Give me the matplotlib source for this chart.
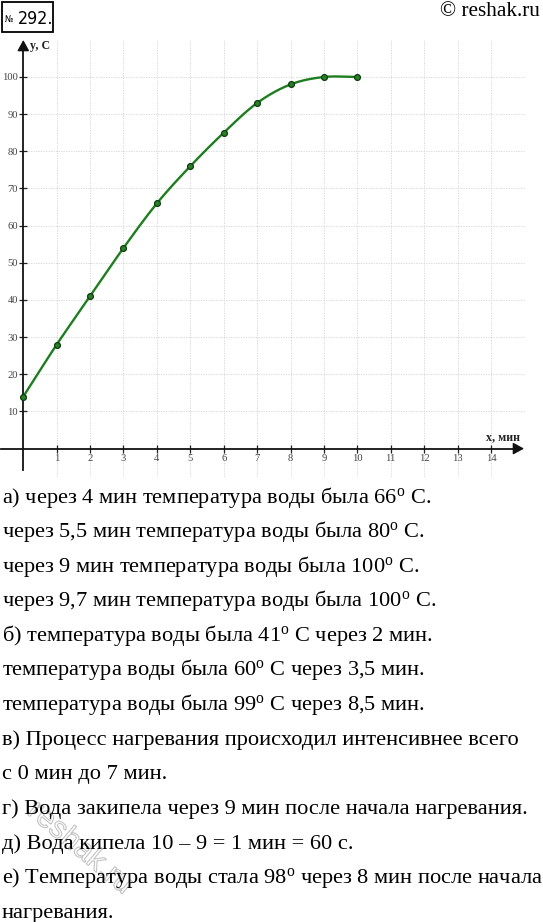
import numpy as np
import matplotlib
matplotlib.use("Agg")
import matplotlib.pyplot as plt
from matplotlib.patches import Rectangle
from matplotlib import font_manager
from matplotlib.font_manager import FontProperties
import matplotlib.patheffects as pe

plt.rcParams['mathtext.fontset'] = 'custom'
plt.rcParams['mathtext.rm'] = 'Liberation Serif'
plt.rcParams['mathtext.it'] = 'Liberation Serif:italic'

# ---------------- data ----------------
minutes = [0, 1, 2, 3, 4, 5, 6, 7, 8, 9, 10]
temperature = [14, 28, 41, 54, 66, 76, 85, 93, 98, 100, 100]
x_ticks = [1, 2, 3, 4, 5, 6, 7, 8, 9, 10, 11, 12, 13, 14]
y_ticks = [10, 20, 30, 40, 50, 60, 70, 80, 90, 100]
x_label = "x, мин"
y_label = "y, C"
header_no = "№"
header_num = "292."
site = "© reshak.ru"
SUP = r"$^{\mathrm{o}}$"
answer_lines = [
    "а) через 4 мин температура воды была 66" + SUP + " С.",
    "через 5,5 мин температура воды была 80" + SUP + " С.",
    "через 9 мин температура воды была 100" + SUP + " С.",
    "через 9,7 мин температура воды была 100" + SUP + " С.",
    "б) температура воды была 41" + SUP + " С через 2 мин.",
    "температура воды была 60" + SUP + " С через 3,5 мин.",
    "температура воды была 99" + SUP + " С через 8,5 мин.",
    "в) Процесс нагревания происходил интенсивнее всего",
    "с 0 мин до 7 мин.",
    "г) Вода закипела через 9 мин после начала нагревания.",
    "д) Вода кипела 10 – 9 = 1 мин = 60 с.",
    "е) Температура воды стала 98" + SUP + " через 8 мин после начала",
    "нагревания.",
]

# ---------------- condensed font for the header ----------------
def find_condensed():
    cands = []
    for f in font_manager.fontManager.ttflist:
        fn = f.fname.lower()
        if ('narrow' in fn or 'condensed' in fn) and 'bold' not in fn \
                and 'italic' not in fn and 'oblique' not in fn:
            key = fn.replace('-', '').replace(' ', '').replace('_', '')
            score = 0
            if 'liberationsansnarrow' in key:
                score = 3
            elif 'dejavusanscondensed' in key:
                score = 2
            elif 'sans' in key:
                score = 1
            if 'serif' in key and 'sans' not in key:
                score = -1
            cands.append((score, f.fname))
    cands.sort(reverse=True)
    if cands and cands[0][0] >= 0:
        return FontProperties(fname=cands[0][1])
    return FontProperties(family='Liberation Sans')

cond_fp = find_condensed()

# ---------------- layout (pixels) ----------------
W, H = 543, 922
ox, oy = 23.3, 448.6       # pixel position of origin
sx, sy = 33.4, 3.716       # pixels per unit

fig = plt.figure(figsize=(W / 100, H / 100), dpi=100)
ax = fig.add_axes([0, 0, 1, 1])
ax.set_xlim(-ox / sx, (W - ox) / sx)
ax.set_ylim((oy - H) / sy, oy / sy)
ax.set_facecolor('white')

def px_x(p):
    return (p - ox) / sx

def px_y(p):
    return (oy - p) / sy

x_max = px_x(524)
y_top = px_y(40)
y_bot = px_y(470)
grid_right = 15

# grid
grid_kw = dict(color='#d4d4d4', lw=0.6, linestyle=(0, (1.5, 1.5)), zorder=1)
ax.vlines(x_ticks, px_y(476), y_top, **grid_kw)
ax.hlines(y_ticks, 0, grid_right, **grid_kw)

# axes with spines at zero
for s in ['top', 'right']:
    ax.spines[s].set_visible(False)
ax.spines['left'].set_position(('data', 0))
ax.spines['bottom'].set_position(('data', 0))
ax.spines['left'].set_bounds(y_bot, y_top - 1.5)
ax.spines['bottom'].set_bounds(px_x(1), x_max - 0.15)
for s in ['left', 'bottom']:
    ax.spines[s].set_linewidth(1.3)
    ax.spines[s].set_color('#111111')
    ax.spines[s].set_zorder(3)

ax.set_xticks(x_ticks)
ax.set_yticks(y_ticks)
ax.set_xticklabels([str(t) for t in x_ticks])
ax.set_yticklabels([str(t) for t in y_ticks])
ax.tick_params(axis='both', direction='inout', length=5.5, width=0.9,
               color='#222222', labelsize=7.6, labelcolor='#444444', pad=1.0)
for lab in ax.get_xticklabels() + ax.get_yticklabels():
    lab.set_family('Liberation Serif')

# arrow heads
ax.annotate('', xy=(x_max, 0), xytext=(x_max - 0.3, 0),
            arrowprops=dict(arrowstyle='-|>,head_length=0.55,head_width=0.3',
                            color='#111111', lw=1.0, shrinkA=0, shrinkB=0,
                            mutation_scale=12), zorder=4)
ax.annotate('', xy=(0, y_top), xytext=(0, y_top - 3),
            arrowprops=dict(arrowstyle='-|>,head_length=0.55,head_width=0.3',
                            color='#111111', lw=1.0, shrinkA=0, shrinkB=0,
                            mutation_scale=12), zorder=4)

ax.text(px_x(30), px_y(46.5), y_label, fontsize=8.6, fontweight='bold',
        family='Liberation Serif', ha='left', va='center', color='#222222')
ax.text(px_x(486), px_y(437.5), x_label, fontsize=8.6, fontweight='bold',
        family='Liberation Serif', ha='left', va='center', color='#222222')

# smooth curve through the data (cubic Hermite rendering)
xs = np.array(minutes, dtype=float)
ys = np.array(temperature, dtype=float)
n = len(xs)
m = np.zeros(n)
m[1:-1] = (ys[2:] - ys[:-2]) / (xs[2:] - xs[:-2])
m[0] = ys[1] - ys[0]
m[-1] = ys[-1] - ys[-2]
cx, cy = [], []
for i in range(n - 1):
    t = np.linspace(0, 1, 20)
    h = xs[i + 1] - xs[i]
    h00 = 2 * t**3 - 3 * t**2 + 1
    h10 = t**3 - 2 * t**2 + t
    h01 = -2 * t**3 + 3 * t**2
    h11 = t**3 - t**2
    cx.extend(xs[i] + t * h)
    cy.extend(h00 * ys[i] + h10 * h * m[i] + h01 * ys[i + 1] + h11 * h * m[i + 1])
ax.plot(cx, cy, color='#1e7d1e', lw=1.7, zorder=5, solid_capstyle='round')
ax.plot(minutes, temperature, 'o', ms=4.2, mfc='#2a7f2a', mec='#0d3d0d',
        mew=0.9, zorder=6, linestyle='none')

# ---------------- header ----------------
def fx(p):
    return p / W

def fy(p):
    return 1 - p / H

fig.patches.append(Rectangle((fx(2), fy(32)), (53 - 2) / W, 30 / H,
                             transform=fig.transFigure, fill=False,
                             ec='black', lw=1.3))
no_fp = cond_fp.copy()
no_fp.set_size(6.5)
num_fp = cond_fp.copy()
num_fp.set_size(12.8)
fig.text(fx(5.0), fy(22.5), header_no, fontproperties=no_fp,
         ha='left', va='baseline')
fig.text(fx(17.5), fy(23.5), header_num, fontproperties=num_fp,
         ha='left', va='baseline')
fig.text(fx(539.5), fy(16.5), site, fontsize=15.3, family='Liberation Serif',
         ha='right', va='baseline')

# ---------------- answer text ----------------
base0 = 502.5
step = 34.6
for i, line in enumerate(answer_lines):
    fig.text(fx(1.5), fy(base0 + i * step), line, fontsize=16.1,
             family='Liberation Serif', ha='left', va='baseline', color='black',
             zorder=3)

# faint watermark
wm = fig.text(fx(80), fy(848), "reshak.ru", fontsize=22, family='Liberation Sans',
              rotation=-40, ha='center', va='center', color='white',
              zorder=0.5)
wm.set_path_effects([pe.Stroke(linewidth=0.8, foreground='#c4c4c4')])

fig.savefig('out.png', dpi=100)
